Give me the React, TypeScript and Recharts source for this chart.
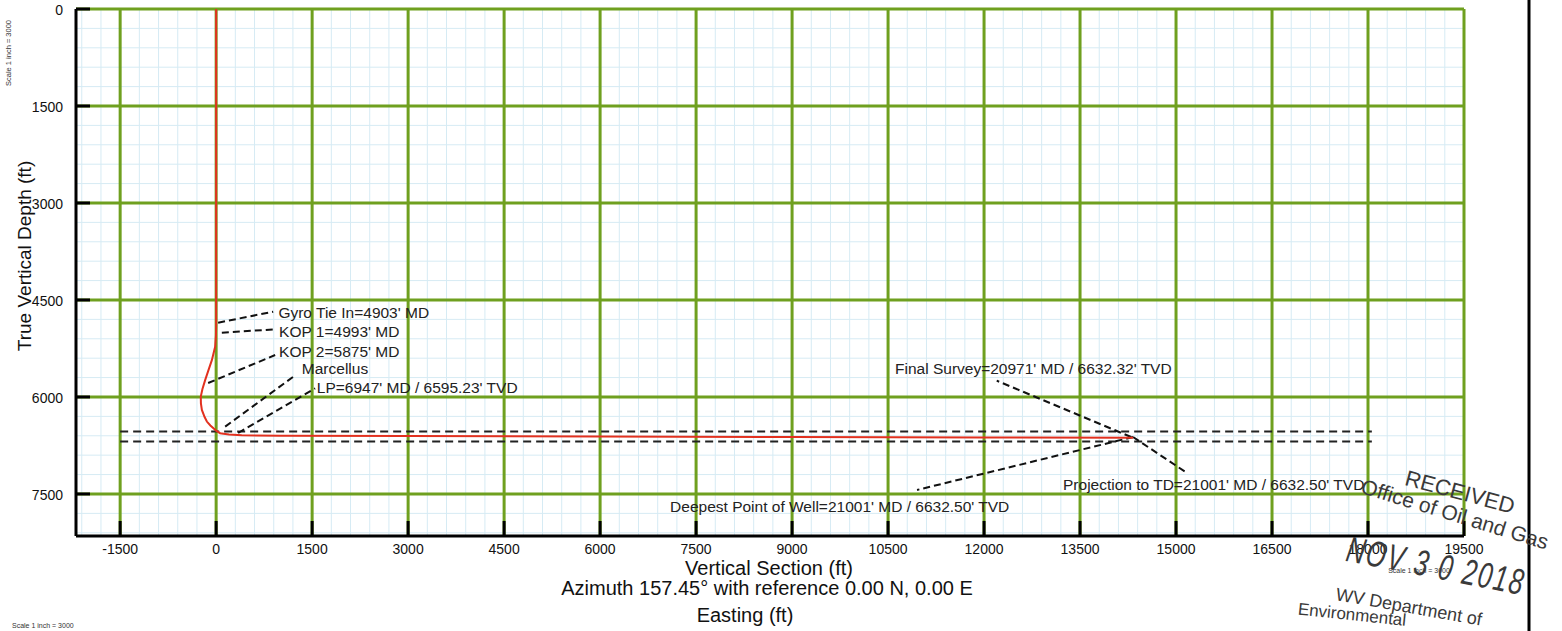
import React from "react";
import { LineChart, Line, XAxis, YAxis, ReferenceLine, ReferenceDot } from "recharts";

// ---------- data ----------
const X_TICKS = [-1500, 0, 1500, 3000, 4500, 6000, 7500, 9000, 10500, 12000, 13500, 15000, 16500, 18000, 19500];
const Y_TICKS = [0, 1500, 3000, 4500, 6000, 7500];
const X_DOMAIN: [number, number] = [-2190, 19500];
const Y_DOMAIN: [number, number] = [0, 8150];
const MINOR_STEP = 300;

// wellpath: vertical section (ft) vs true vertical depth (ft)
const WELL_VS = [0, 0, -3, -15, -67, -125, -172, -215, -240, -238, -223, -180, -145, -90, -42, 0, 62, 200, 400, 1000, 3000, 6000, 9000, 12000, 14330];
const WELL_TVD = [0, 4900, 5050, 5220, 5430, 5600, 5740, 5880, 5995, 6100, 6200, 6310, 6380, 6440, 6485, 6520, 6560, 6580, 6592, 6598, 6605, 6612, 6618, 6626, 6632];

// formation (target) lines
const FORMATION_VS = [-1500, 18060];
const FORMATION_TOP_TVD = [6535, 6535];
const FORMATION_BASE_TVD = [6690, 6690];

// annotations
const ANNOT_LABELS = [
  "Gyro Tie In=4903' MD",
  "KOP 1=4993' MD",
  "KOP 2=5875' MD",
  "Marcellus",
  "LP=6947' MD / 6595.23' TVD",
  "Final Survey=20971' MD / 6632.32' TVD",
  "Projection to TD=21001' MD / 6632.50' TVD",
  "Deepest Point of Well=21001' MD / 6632.50' TVD",
];
const ANNOT_TEXT_VS = [973, 984, 984, 1339, 1573, 10609, 13234, 7094];
const ANNOT_TEXT_TVD = [4686, 4990, 5300, 5556, 5850, 5552, 7361, 7697];
const LEADER_WELL_VS = [31, 89, -125, 141, 344, 14297, 14328, 14328];
const LEADER_WELL_TVD = [4851, 5006, 5784, 6459, 6557, 6619, 6619, 6619];
const LEADER_TEXT_VS = [891, 922, 922, 1208, 1547, 12198, 15141, 10953];
const LEADER_TEXT_TVD = [4681, 4953, 5351, 5686, 5866, 5748, 7155, 7438];

// ---------- derived ----------
const wellData = WELL_VS.map((vs, i) => ({ vs, tvd: WELL_TVD[i] }));
const formTop = FORMATION_VS.map((vs, i) => ({ vs, tvd: FORMATION_TOP_TVD[i] }));
const formBase = FORMATION_VS.map((vs, i) => ({ vs, tvd: FORMATION_BASE_TVD[i] }));

const minorX: number[] = [];
for (let v = -2100; v < X_DOMAIN[1]; v += MINOR_STEP) if (!X_TICKS.includes(v)) minorX.push(v);
const minorY: number[] = [];
for (let v = MINOR_STEP; v < Y_DOMAIN[1]; v += MINOR_STEP) if (!Y_TICKS.includes(v)) minorY.push(v);

const W = 1562;
const H = 631;
const PLOT_LEFT = 76;
const PLOT_BOTTOM = 536;
const FONT = "'Liberation Sans', Arial, Helvetica, sans-serif";
const GREEN = "#6fa01f";
const MINOR = "#d6ebf4";
const RED = "#e2311f";

const XTick = (props: any) => {
  const { x, payload } = props;
  return (
    <g>
      <line x1={x} x2={x} y1={PLOT_BOTTOM} y2={PLOT_BOTTOM - 15} stroke="#000" strokeWidth={3} />
      <text x={x} y={549} textAnchor="middle" dominantBaseline="central" fontFamily={FONT} fontSize={14} fill="#111">
        {payload.value}
      </text>
    </g>
  );
};

const YTick = (props: any) => {
  const { y, payload } = props;
  return (
    <g>
      <line x1={PLOT_LEFT} x2={PLOT_LEFT + 14} y1={y} y2={y} stroke="#000" strokeWidth={3} />
      <text x={63} y={y + 1} textAnchor="end" dominantBaseline="central" fontFamily={FONT} fontSize={14} fill="#111">
        {payload.value}
      </text>
    </g>
  );
};

export default function App() {
  return (
    <div style={{ position: "absolute", left: 0, top: 0, width: W, height: H, background: "#fff" }}>
      <LineChart width={W} height={H} margin={{ top: 9, right: 98, bottom: 0, left: 0 }}>
        <XAxis
          type="number"
          dataKey="vs"
          domain={X_DOMAIN}
          ticks={X_TICKS}
          interval={0}
          allowDataOverflow
          height={95}
          tickLine={false}
          tick={<XTick />}
          axisLine={{ stroke: "#000", strokeWidth: 3 }}
        />
        <YAxis
          type="number"
          dataKey="tvd"
          domain={Y_DOMAIN}
          ticks={Y_TICKS}
          interval={0}
          reversed
          allowDataOverflow
          width={76}
          tickLine={false}
          tick={<YTick />}
          axisLine={{ stroke: "#000", strokeWidth: 3 }}
        />
        {minorX.map((v) => (
          <ReferenceLine key={"mx" + v} x={v} stroke={MINOR} strokeWidth={1} />
        ))}
        {minorY.map((v) => (
          <ReferenceLine key={"my" + v} y={v} stroke={MINOR} strokeWidth={1} />
        ))}
        {X_TICKS.map((v) => (
          <ReferenceLine key={"Mx" + v} x={v} stroke={GREEN} strokeWidth={3} />
        ))}
        {Y_TICKS.map((v) => (
          <ReferenceLine key={"My" + v} y={v} stroke={GREEN} strokeWidth={3} />
        ))}
        <Line data={formTop} dataKey="tvd" type="linear" stroke="#222" strokeWidth={2} strokeDasharray="8 5" dot={false} activeDot={false} isAnimationActive={false} />
        <Line data={formBase} dataKey="tvd" type="linear" stroke="#222" strokeWidth={2} strokeDasharray="8 5" dot={false} activeDot={false} isAnimationActive={false} />
        {ANNOT_LABELS.map((_, i) => (
          <ReferenceLine
            key={"ld" + i}
            segment={[
              { x: LEADER_WELL_VS[i], y: LEADER_WELL_TVD[i] },
              { x: LEADER_TEXT_VS[i], y: LEADER_TEXT_TVD[i] },
            ]}
            stroke="#111"
            strokeWidth={2}
            strokeDasharray="7 4"
          />
        ))}
        <Line data={wellData} dataKey="tvd" type="linear" stroke={RED} strokeWidth={2} dot={false} activeDot={false} isAnimationActive={false} />
        {ANNOT_LABELS.map((label, i) => (
          <ReferenceDot
            key={"lt" + i}
            x={ANNOT_TEXT_VS[i]}
            y={ANNOT_TEXT_TVD[i]}
            r={0}
            shape={(p: any) => (
              <text x={p.cx} y={p.cy} dominantBaseline="central" fontFamily={FONT} fontSize={15.5} fill="#222">
                {label}
              </text>
            )}
          />
        ))}
      </LineChart>
      <svg width={W} height={H} style={{ position: "absolute", left: 0, top: 0, pointerEvents: "none" }}>
        <line x1={1529} x2={1529} y1={0} y2={H} stroke="#000" strokeWidth={3} />
        <text transform="translate(24,256) rotate(-90)" textAnchor="middle" dominantBaseline="central" fontFamily={FONT} fontSize={19} fill="#111">
          True Vertical Depth (ft)
        </text>
        <text transform="translate(8,53) rotate(-90)" textAnchor="middle" dominantBaseline="central" fontFamily={FONT} fontSize={7.5} fill="#333">
          Scale 1 inch = 3000
        </text>
        <text x={769} y={568} textAnchor="middle" dominantBaseline="central" fontFamily={FONT} fontSize={20} fill="#111">
          Vertical Section (ft)
        </text>
        <text x={767} y={588} textAnchor="middle" dominantBaseline="central" fontFamily={FONT} fontSize={20} fill="#111">
          Azimuth 157.45° with reference 0.00 N, 0.00 E
        </text>
        <text x={745} y={615} textAnchor="middle" dominantBaseline="central" fontFamily={FONT} fontSize={20} fill="#111">
          Easting (ft)
        </text>
        <text x={12} y={625} dominantBaseline="central" fontFamily={FONT} fontSize={7} fill="#333">
          Scale 1 inch = 3000
        </text>
        <text x={1419} y={570} textAnchor="middle" dominantBaseline="central" fontFamily={FONT} fontSize={7} fill="#333">
          Scale 1 inch = 3000
        </text>
        <g fill="#3a3a3a" fontFamily={FONT}>
          <text transform="translate(1460,492) rotate(15)" textAnchor="middle" dominantBaseline="central" fontSize={22}>
            RECEIVED
          </text>
          <text transform="translate(1455,514) rotate(17)" textAnchor="middle" dominantBaseline="central" fontSize={21}>
            Office of Oil and Gas
          </text>
          <text transform="translate(1436,566) rotate(11) scale(0.9,1.3)" textAnchor="middle" dominantBaseline="central" fontSize={28} fontStyle="italic" letterSpacing={2}>
            NOV 3 0 2018
          </text>
          <text transform="translate(1336,594) rotate(10)" dominantBaseline="central" fontSize={18}>
            WV Department of
          </text>
          <text transform="translate(1298,609) rotate(6)" dominantBaseline="central" fontSize={17}>
            Environmental
          </text>
        </g>
      </svg>
    </div>
  );
}
